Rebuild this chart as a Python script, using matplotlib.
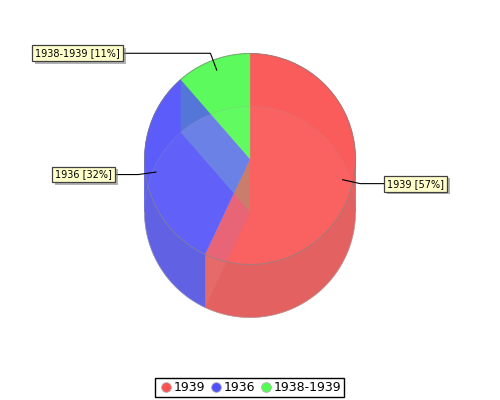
import numpy as np
import matplotlib
matplotlib.use('Agg')
import matplotlib.pyplot as plt
import matplotlib.patheffects as pe
from matplotlib.lines import Line2D
from matplotlib.patches import Ellipse, Polygon

# data
categories = ['1939', '1936', '1938-1939']
values = [57, 31.6, 11.4]

# styles
top_colors = ['#fa5c5c', '#5c5cfa', '#5cfa5c']
side_colors = ['#e46161', '#6161e4', '#61e461']
legend_colors = ['#ff5050', '#5050ff', '#50ff50']
label_edges = [385, 116, 124]
label_offsets = [2, -4, -4]

# pie geometry in pixels
cx, cy = 250, 159
r = 105.5
depth = 53

fig = plt.figure(figsize=(5, 4), dpi=100)
ax = fig.add_axes([0, 0, 1, 1])
ax.set_xlim(0, 500)
ax.set_ylim(400, 0)
ax.axis('off')


def arc(a0, a1, dy=0):
    t = np.radians(np.linspace(a0, a1, 120))
    return np.column_stack([cx + r * np.cos(t), cy + dy - r * np.sin(t)])


def rim(angle):
    a = np.radians(angle)
    return cx + r * np.cos(a), cy - r * np.sin(a)


pct = np.array(values) / sum(values)
ends = 90 - 360 * np.cumsum(pct)
starts = np.r_[90, ends[:-1]]

# outer walls, split where the rim turns back so each piece is a simple shape
for a0, a1, c in zip(starts, ends, side_colors):
    cuts = [a for a in (0, -180) if a1 < a < a0]
    edges = [a0] + cuts + [a1]
    for b0, b1 in zip(edges[:-1], edges[1:]):
        pts = np.vstack([arc(b0, b1), arc(b1, b0, depth)])
        ax.add_patch(Polygon(pts, closed=True, fc=c, ec=c, lw=0.3, zorder=1))

# top face
for a0, a1, c in zip(starts, ends, top_colors):
    pts = np.vstack([[(cx, cy)], arc(a0, a1)])
    ax.add_patch(Polygon(pts, closed=True, fc=c, ec=c, lw=0.2, zorder=2))

top_clip = Ellipse((cx, cy), 2 * r, 2 * r, transform=ax.transData)
floor_clip = Ellipse((cx, cy + depth), 2 * r, 2 * r, transform=ax.transData)

# floor shows faintly through the top
lens = ax.add_patch(Ellipse((cx, cy + depth), 2 * r, 2 * r, fc='white', ec='none', alpha=0.03, zorder=3))
lens.set_clip_path(top_clip)

# cut wall of the blue slice, seen through the red top
bx, by = rim(starts[1])
pts = [(cx, cy), (bx, by), (bx, by + depth), (cx, cy + depth)]
wall = ax.add_patch(Polygon(pts, closed=True, fc='#3030ff', ec='none', alpha=0.09, zorder=3))
wall.set_clip_path(top_clip)
lift = ax.add_patch(Polygon(pts, closed=True, fc='white', ec='none', alpha=0.06, zorder=3))
lift.set_clip_path(floor_clip)

# cut wall of the green slice, seen through blue and red tops
gx, gy = rim(starts[2])
pts = [(cx, cy), (gx, gy), (gx, gy + depth), (cx, cy + depth)]
wall = ax.add_patch(Polygon(pts, closed=True, fc='#30ff30', ec='none', alpha=0.16, zorder=3))
wall.set_clip_path(top_clip)

# the part of that wall over the blue top turns lavender inside the floor
u = np.array([gx - cx, gy - cy])
v = np.array([bx - cx, by - cy])
# where the wall's lower edge meets the red/blue boundary
t = depth * u[0] / (v[1] * u[0] - v[0] * u[1])
hit = (cx + t * v[0], cy + t * v[1])
pts = [(cx, cy), (gx, gy), (gx, gy + depth), hit]
lift = ax.add_patch(Polygon(pts, closed=True, fc='#9090ff', ec='none', alpha=0.35, zorder=3))
lift.set_clip_path(floor_clip)

ax.add_patch(Ellipse((cx, cy), 2 * r, 2 * r, fc='none', ec='#808080', lw=0.8, alpha=0.6, zorder=5))
ax.plot(*arc(0, -180, depth).T, color='#a0a0a0', lw=0.7, alpha=0.5, zorder=5)
ax.plot(*arc(180, 0, depth).T, color='#a0a0a0', lw=0.6, alpha=0.25, zorder=5)

# labels with leader lines
for name, p, a0, a1, edge, off in zip(categories, pct, starts, ends, label_edges, label_offsets):
    mid = np.radians((a0 + a1) / 2)
    inner = (cx + 0.9 * r * np.cos(mid), cy - 0.9 * r * np.sin(mid))
    elbow = (cx + 1.07 * r * np.cos(mid), cy - 1.07 * r * np.sin(mid))
    ax.plot([inner[0], elbow[0], edge], [inner[1], elbow[1], elbow[1]], color='black', lw=0.8, zorder=6)
    ha = 'left' if edge > cx else 'right'
    txt = ax.text(edge + off, elbow[1], f'{name} [{p * 100:.0f}%]', fontsize=7, ha=ha, va='center', zorder=8,
                  bbox=dict(boxstyle='square,pad=0.3', fc='#ffffcc', ec='#404040', lw=0.9))
    txt.get_bbox_patch().set_path_effects([
        pe.SimplePatchShadow(offset=(2, -2), shadow_rgbFace='#808080', alpha=0.6),
        pe.Normal(),
    ])

handles = [Line2D([], [], ls='none', marker='o', ms=7, mfc=c, mec='#b0b0b0', mew=0.6) for c in legend_colors]
leg = ax.legend(handles, categories, ncol=3, loc='center', bbox_to_anchor=(0.4995, 0.031), fontsize=9,
                frameon=True, fancybox=False, framealpha=1, edgecolor='black', handletextpad=0.0,
                columnspacing=0.3, borderpad=0.25, borderaxespad=0, handlelength=1.2)
leg.get_frame().set_linewidth(1.0)

fig.savefig('out.png', dpi=100)
